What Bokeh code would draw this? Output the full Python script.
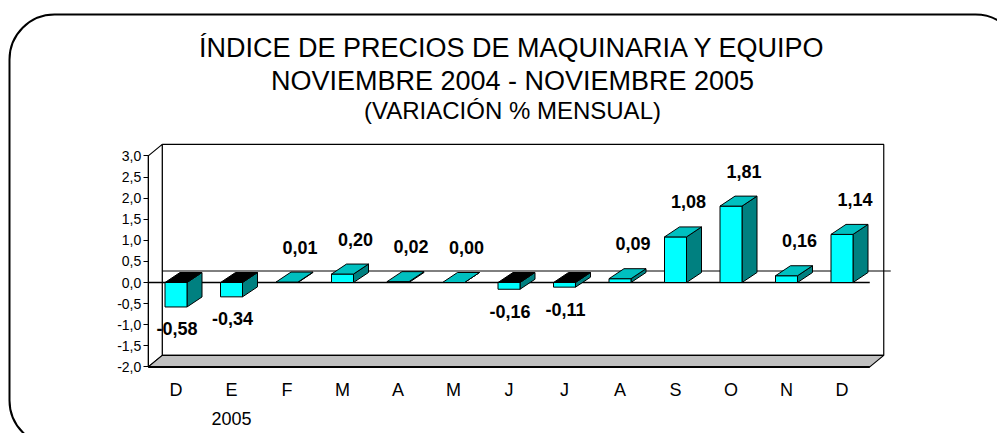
from bokeh.plotting import figure
from bokeh.models import Range1d, LinearAxis, FixedTicker, Label
from bokeh.embed import file_html
from bokeh.resources import INLINE
from bokeh.core.properties import value

# ---------------- data ----------------
months = ["D", "E", "F", "M", "A", "M", "J", "J", "A", "S", "O", "N", "D"]
variation = [-0.58, -0.34, 0.01, 0.20, 0.02, 0.00, -0.16, -0.11, 0.09, 1.08, 1.81, 0.16, 1.14]
value_labels = ["-0,58", "-0,34", "0,01", "0,20", "0,02", "0,00", "-0,16", "-0,11",
                "0,09", "1,08", "1,81", "0,16", "1,14"]
y_ticks = [-2.0, -1.5, -1.0, -0.5, 0.0, 0.5, 1.0, 1.5, 2.0, 2.5, 3.0]
y_tick_labels = ["-2,0", "-1,5", "-1,0", "-0,5", "0,0", "0,5", "1,0", "1,5", "2,0", "2,5", "3,0"]
year_tick = [1]
year_labels = ["2005"]
title_lines = ["ÍNDICE DE PRECIOS DE MAQUINARIA Y EQUIPO",
               "NOVIEMBRE 2004 - NOVIEMBRE 2005",
               "(VARIACIÓN % MENSUAL)"]

# ---------------- scale helpers (picture pixels -> data) ----------------
SX, SY = 55.5, 42.2          # pixels per category / per unit
XC0, YZ = 175.5, 282.0       # x of first category centre, y of zero line


def lx(px):
    return px / SX


def ly(py):
    return py / SY


def xat(px):
    return (px - XC0) / SX


def yat(py):
    return (YZ - py) / SY


W, H = 997, 433
p = figure(width=W, height=H, output_backend="svg", toolbar_location=None,
           x_axis_type=None, y_axis_type=None, min_border=0,
           x_range=Range1d(xat(0), xat(W)), y_range=Range1d(yat(H), yat(0)))
p.outline_line_color = None
p.background_fill_color = "white"
p.border_fill_color = "white"

# rounded outer border
p.quad(left=[xat(9)], right=[xat(1020)], top=[yat(14)], bottom=[yat(445)],
       fill_color=None, line_color="black", line_width=2, border_radius=45)

n = len(months)
xl, xr = -0.5, n - 0.5
yb, yt = y_ticks[0], y_ticks[-1]
WDX, WDY = lx(14), ly(11.5)
BDX, BDY = lx(15), ly(10)
HW = lx(11)

# walls and floor
p.quad(left=[xl + WDX], right=[xr + WDX], bottom=[yb + WDY], top=[yt + WDY],
       fill_color="white", line_color="black", line_width=1.2)
p.patch([xl, xl, xl + WDX, xl + WDX], [yb, yt, yt + WDY, yb + WDY],
        fill_color="white", line_color="black", line_width=1.2)
p.patch([xl, xr, xr + WDX, xl + WDX], [yb, yb, yb + WDY, yb + WDY],
        fill_color="#C0C0C0", line_color="black", line_width=1.2)
p.segment(x0=[xl], y0=[yb], x1=[xr], y1=[yb], line_color="black", line_width=2)

# zero plane lines
p.segment(x0=[xl + WDX], y0=[WDY], x1=[xr + WDX + lx(7)], y1=[WDY], line_color="black", line_width=1)
p.segment(x0=[xl], y0=[0], x1=[xr], y1=[0], line_color="black", line_width=1.5)

# 3D bars
front_xs, front_ys, side_xs, side_ys, top_xs, top_ys, top_cols = [], [], [], [], [], [], []
for i, v in enumerate(variation):
    lo, hi = min(0, v), max(0, v)
    front_xs.append([i - HW, i + HW, i + HW, i - HW])
    front_ys.append([lo, lo, hi, hi])
    side_xs.append([i + HW, i + HW, i + HW + BDX, i + HW + BDX])
    side_ys.append([0, v, v + BDY, BDY])
    top_xs.append([i - HW, i + HW, i + HW + BDX, i - HW + BDX])
    top_ys.append([hi, hi, hi + BDY, hi + BDY])
    top_cols.append("#00C0C0" if v >= 0 else "black")

p.patches(side_xs, side_ys, fill_color="#008080", line_color="black", line_width=1)
p.patches(front_xs, front_ys, fill_color="#00FFFF", line_color="black", line_width=1)
p.patches(top_xs, top_ys, fill_color=top_cols, line_color="black", line_width=1)

# value labels
xo = [13 if v >= 0 else 1 for v in variation]
yo = [-35 if v >= 0 else 22 for v in variation]
p.text(x=list(range(n)), y=variation, text=value_labels, x_offset=xo, y_offset=yo,
       text_align="center", text_baseline="middle", text_font=value("Liberation Sans"),
       text_font_size="18px", text_font_style="bold", text_color="black")

# y axis at the front-left edge
yax = LinearAxis(fixed_location=xl, bounds=(yb, yt), ticker=FixedTicker(ticks=y_ticks),
                 major_label_overrides={(int(t) if t == int(t) else t): s
                                        for t, s in zip(y_ticks, y_tick_labels)},
                 major_tick_out=5, major_tick_in=0, minor_tick_out=0, minor_tick_in=0,
                 axis_line_color="black", axis_line_width=1, major_tick_line_width=1,
                 major_label_standoff=2, major_label_text_font="Liberation Sans",
                 major_label_text_font_size="14px", major_label_text_color="black")
p.add_layout(yax, "left")

# category axis
xax = LinearAxis(fixed_location=yb, ticker=FixedTicker(ticks=list(range(n))),
                 major_label_overrides={i: m for i, m in enumerate(months)},
                 axis_line_color=None, major_tick_line_color=None, minor_tick_line_color=None,
                 major_tick_out=0, major_tick_in=0, minor_tick_out=0, minor_tick_in=0,
                 major_label_standoff=13, major_label_text_font="Liberation Sans",
                 major_label_text_font_size="18px", major_label_text_color="black")
p.add_layout(xax, "below")

yrax = LinearAxis(fixed_location=yb, ticker=FixedTicker(ticks=year_tick),
                  major_label_overrides={t: s for t, s in zip(year_tick, year_labels)},
                  axis_line_color=None, major_tick_line_color=None, minor_tick_line_color=None,
                  major_tick_out=0, major_tick_in=0, minor_tick_out=0, minor_tick_in=0,
                  major_label_standoff=45, major_label_text_font="Liberation Sans",
                  major_label_text_font_size="18px", major_label_text_color="black")
p.add_layout(yrax, "below")

# titles
for txt, cy, fs in zip(title_lines, [47, 80, 110], ["27px", "27px", "24px"]):
    p.add_layout(Label(x=xat(512), y=yat(cy), text=txt, text_align="center",
                       text_baseline="middle", text_font="Liberation Sans",
                       text_font_size=fs, text_color="black"))

open("out.html", "w").write(file_html(p, INLINE))
